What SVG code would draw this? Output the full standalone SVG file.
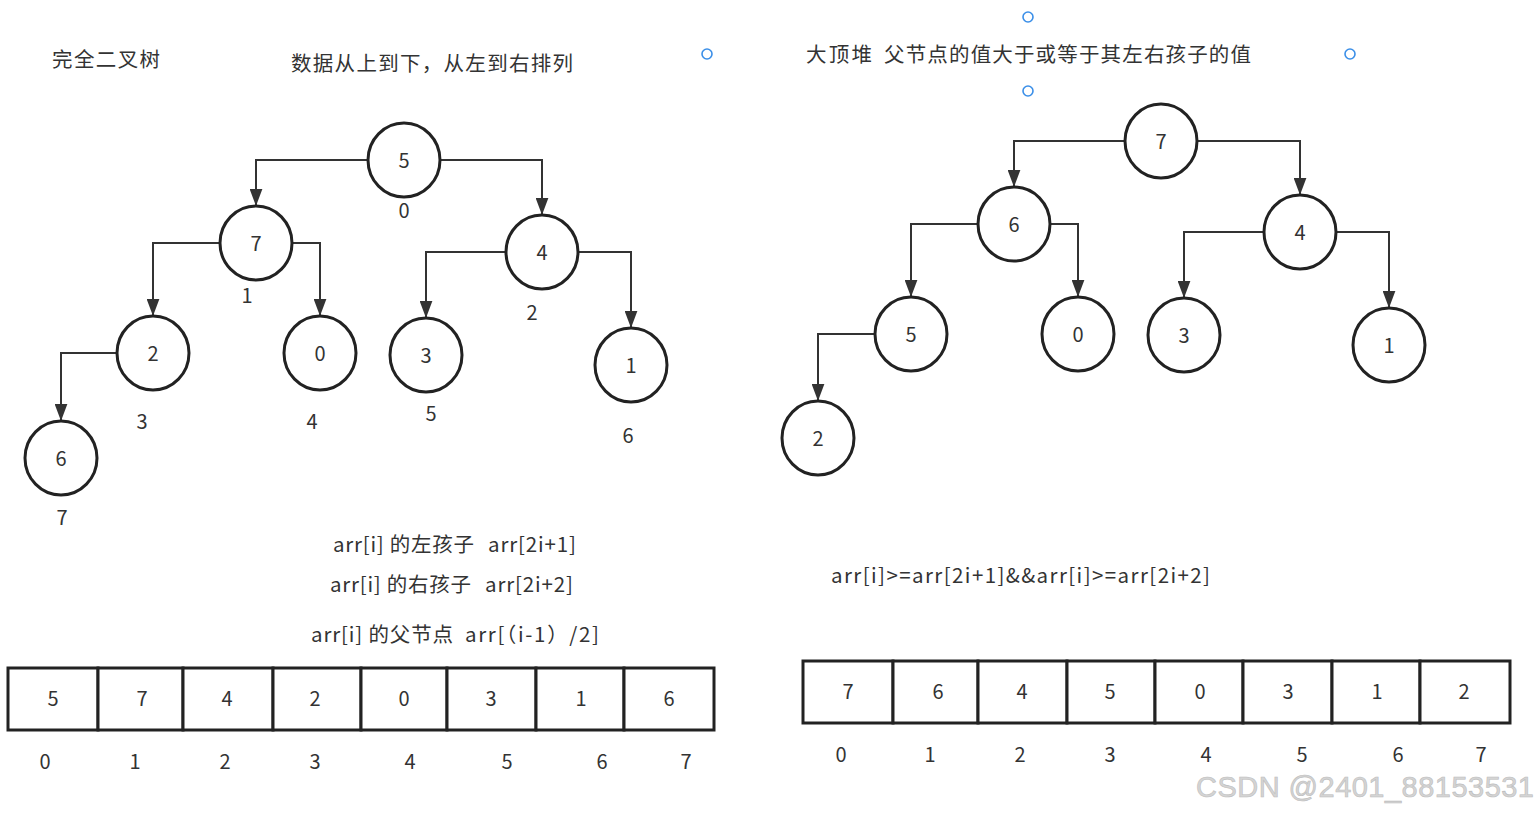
<svg xmlns="http://www.w3.org/2000/svg" width="1540" height="813" viewBox="0 0 1540 813">
<style>
text{font-family:"Noto Sans CJK SC","Liberation Sans",sans-serif;fill:#333}
.t{font-size:20.5px}
.n{font-size:20px;text-anchor:middle}
.node ellipse{fill:#fff;stroke:#222;stroke-width:3}
.cell rect{fill:#fff;stroke:#222;stroke-width:3}
.conn path{fill:none;stroke:#333;stroke-width:2;marker-end:url(#ah)}
.pt{fill:#fff;stroke:#3b8fe8;stroke-width:1.6}
.wm{font-family:"Liberation Sans",sans-serif;font-size:29px;fill:#d4d4d4;stroke:#bdbdbd;stroke-width:0.6}
</style>
<defs>
<marker id="ah" viewBox="0 0 16 12" refX="16" refY="6" markerWidth="17" markerHeight="13" markerUnits="userSpaceOnUse" orient="auto">
<path d="M0,0 L16,6 L0,12 z" fill="#333"/>
</marker>
</defs>
<rect width="1540" height="813" fill="#fff"/>

<!-- titles -->
<text class="t" x="52" y="67" textLength="108">完全二叉树</text>
<text class="t" x="291" y="71" textLength="282">数据从上到下，从左到右排列</text>
<text class="t" x="806" y="62" textLength="66">大顶堆</text>
<text class="t" x="884" y="62" textLength="367">父节点的值大于或等于其左右孩子的值</text>

<!-- blue anchor points -->
<circle class="pt" cx="707" cy="54" r="5"/>
<circle class="pt" cx="1028" cy="17" r="5"/>
<circle class="pt" cx="1350" cy="54" r="5"/>
<circle class="pt" cx="1028" cy="91" r="5"/>

<!-- connectors -->
<g id="connectors" class="conn">
<path d="M368,160 H256 V206"/>
<path d="M440,160 H542 V215"/>
<path d="M220,243 H153 V316"/>
<path d="M292,243 H320 V316"/>
<path d="M506,252 H426 V318"/>
<path d="M578,252 H631 V328"/>
<path d="M117,353 H61 V421"/>
<path d="M1125,141 H1014 V187"/>
<path d="M1197,141 H1300 V195"/>
<path d="M978,224 H911 V297"/>
<path d="M1050,224 H1078 V297"/>
<path d="M1264,232 H1184 V298"/>
<path d="M1336,232 H1389 V308"/>
<path d="M875,334 H818 V401"/>
</g>

<!-- left tree nodes -->
<g id="L0" class="node"><ellipse cx="404" cy="160" rx="36" ry="37"/><text class="n" x="404" y="168">5</text></g>
<g id="L1" class="node"><ellipse cx="256" cy="243" rx="36" ry="37"/><text class="n" x="256" y="251">7</text></g>
<g id="L2" class="node"><ellipse cx="542" cy="252" rx="36" ry="37"/><text class="n" x="542" y="260">4</text></g>
<g id="L3" class="node"><ellipse cx="153" cy="353" rx="36" ry="37"/><text class="n" x="153" y="361">2</text></g>
<g id="L4" class="node"><ellipse cx="320" cy="353" rx="36" ry="37"/><text class="n" x="320" y="361">0</text></g>
<g id="L5" class="node"><ellipse cx="426" cy="355" rx="36" ry="37"/><text class="n" x="426" y="363">3</text></g>
<g id="L6" class="node"><ellipse cx="631" cy="365" rx="36" ry="37"/><text class="n" x="631" y="373">1</text></g>
<g id="L7" class="node"><ellipse cx="61" cy="458" rx="36" ry="37"/><text class="n" x="61" y="466">6</text></g>

<!-- left tree index labels -->
<g id="left-index">
<text class="n" x="404" y="218">0</text>
<text class="n" x="247" y="303">1</text>
<text class="n" x="532" y="320">2</text>
<text class="n" x="142" y="429">3</text>
<text class="n" x="312" y="429">4</text>
<text class="n" x="431" y="421">5</text>
<text class="n" x="628" y="443">6</text>
<text class="n" x="62" y="525">7</text>
</g>

<!-- right tree nodes -->
<g id="R0" class="node"><ellipse cx="1161" cy="141" rx="36" ry="37"/><text class="n" x="1161" y="149">7</text></g>
<g id="R1" class="node"><ellipse cx="1014" cy="224" rx="36" ry="37"/><text class="n" x="1014" y="232">6</text></g>
<g id="R2" class="node"><ellipse cx="1300" cy="232" rx="36" ry="37"/><text class="n" x="1300" y="240">4</text></g>
<g id="R3" class="node"><ellipse cx="911" cy="334" rx="36" ry="37"/><text class="n" x="911" y="342">5</text></g>
<g id="R4" class="node"><ellipse cx="1078" cy="334" rx="36" ry="37"/><text class="n" x="1078" y="342">0</text></g>
<g id="R5" class="node"><ellipse cx="1184" cy="335" rx="36" ry="37"/><text class="n" x="1184" y="343">3</text></g>
<g id="R6" class="node"><ellipse cx="1389" cy="345" rx="36" ry="37"/><text class="n" x="1389" y="353">1</text></g>
<g id="R7" class="node"><ellipse cx="818" cy="438" rx="36" ry="37"/><text class="n" x="818" y="446">2</text></g>

<!-- formulas -->
<text class="t" y="552"><tspan x="333" textLength="141">arr[i] 的左孩子</tspan><tspan x="488" textLength="88">arr[2i+1]</tspan></text>
<text class="t" y="592"><tspan x="330" textLength="141">arr[i] 的右孩子</tspan><tspan x="485" textLength="88">arr[2i+2]</tspan></text>
<text class="t" y="642"><tspan x="311" textLength="142">arr[i] 的父节点</tspan><tspan x="465" textLength="134">arr[（i-1）/2]</tspan></text>
<text class="t" x="831" y="583" textLength="379">arr[i]&gt;=arr[2i+1]&amp;&amp;arr[i]&gt;=arr[2i+2]</text>

<!-- left array -->
<g id="left-array" class="cell">
<rect x="8" y="668" width="90" height="62"/>
<rect x="98" y="668" width="85" height="62"/>
<rect x="183" y="668" width="90" height="62"/>
<rect x="273" y="668" width="88" height="62"/>
<rect x="361" y="668" width="86" height="62"/>
<rect x="447" y="668" width="89" height="62"/>
<rect x="536" y="668" width="88" height="62"/>
<rect x="624" y="668" width="90" height="62"/>
<text class="n" x="53" y="706">5</text>
<text class="n" x="142" y="706">7</text>
<text class="n" x="227" y="706">4</text>
<text class="n" x="315" y="706">2</text>
<text class="n" x="404" y="706">0</text>
<text class="n" x="491" y="706">3</text>
<text class="n" x="581" y="706">1</text>
<text class="n" x="669" y="706">6</text>
</g>
<g id="left-array-index">
<text class="n" x="45" y="769">0</text>
<text class="n" x="135" y="769">1</text>
<text class="n" x="225" y="769">2</text>
<text class="n" x="315" y="769">3</text>
<text class="n" x="410" y="769">4</text>
<text class="n" x="507" y="769">5</text>
<text class="n" x="602" y="769">6</text>
<text class="n" x="686" y="769">7</text>
</g>

<!-- right array -->
<g id="right-array" class="cell">
<rect x="803" y="661" width="90" height="62"/>
<rect x="893" y="661" width="85" height="62"/>
<rect x="978" y="661" width="89" height="62"/>
<rect x="1067" y="661" width="88" height="62"/>
<rect x="1155" y="661" width="88" height="62"/>
<rect x="1243" y="661" width="89" height="62"/>
<rect x="1332" y="661" width="88" height="62"/>
<rect x="1420" y="661" width="90" height="62"/>
<text class="n" x="848" y="699">7</text>
<text class="n" x="938" y="699">6</text>
<text class="n" x="1022" y="699">4</text>
<text class="n" x="1110" y="699">5</text>
<text class="n" x="1200" y="699">0</text>
<text class="n" x="1288" y="699">3</text>
<text class="n" x="1377" y="699">1</text>
<text class="n" x="1464" y="699">2</text>
</g>
<g id="right-array-index">
<text class="n" x="841" y="762">0</text>
<text class="n" x="930" y="762">1</text>
<text class="n" x="1020" y="762">2</text>
<text class="n" x="1110" y="762">3</text>
<text class="n" x="1206" y="762">4</text>
<text class="n" x="1302" y="762">5</text>
<text class="n" x="1398" y="762">6</text>
<text class="n" x="1481" y="762">7</text>
</g>

<text class="wm" x="1196" y="797" textLength="338">CSDN @2401_88153531</text>
</svg>
